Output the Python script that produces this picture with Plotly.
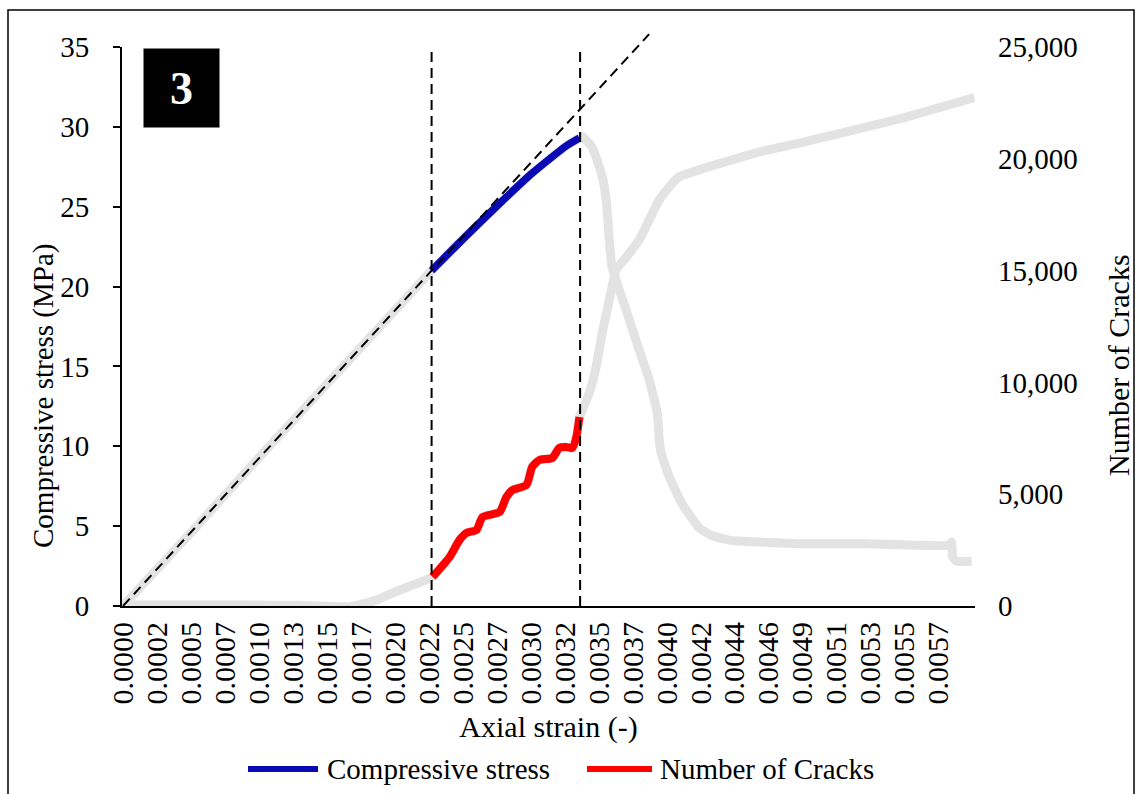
import plotly.graph_objects as go

# Category labels of the strain axis (one unit = one labelled category step)
strain_labels = ["0.0000", "0.0002", "0.0005", "0.0007", "0.0010", "0.0013", "0.0015",
                 "0.0017", "0.0020", "0.0022", "0.0025", "0.0027", "0.0030", "0.0032",
                 "0.0035", "0.0037", "0.0040", "0.0042", "0.0044", "0.0046", "0.0049",
                 "0.0051", "0.0053", "0.0055", "0.0057"]

# Compressive stress (MPa) against axial-strain category position
stress_pos = [0, 2, 4, 6, 8, 9.08, 10.11, 11.08, 12.04, 13.04, 13.43, 13.51, 13.81, 14.10,
              14.22, 14.31, 14.39, 14.81, 15.19, 15.48, 15.72, 15.78, 15.83, 16.07, 16.45,
              16.95, 17.33, 17.92, 19.89, 21.86, 24.29, 24.38, 24.41, 24.53, 24.97]
stress_mpa = [0, 4.6, 9.3, 13.9, 18.5, 21.0, 23.2, 25.2, 27.1, 28.8, 29.3, 29.4, 28.7, 26.9,
              25.4, 22.9, 21.2, 18.5, 16.0, 14.2, 12.1, 10.4, 9.6, 8.1, 6.4,
              4.9, 4.4, 4.1, 3.9, 3.9, 3.8, 4.0, 3.1, 2.8, 2.8]

# Cumulative number of cracks against axial-strain category position
crack_pos = [0, 3.73, 5.2, 6.67, 7.46, 8.14, 9.11, 9.61, 9.90, 10.11, 10.40, 10.58, 11.08,
             11.28, 11.46, 11.87, 12.04, 12.25, 12.63, 12.84, 13.04, 13.22, 13.34, 13.43,
             13.48, 13.72, 13.92, 14.10, 14.31, 14.51, 14.81, 15.19, 15.48, 15.78, 16.07,
             16.36, 18.71, 19.89, 22.83, 25.05]
crack_count = [40, 40, 30, -40, 270, 715, 1300, 2190, 2950, 3270, 3400, 3980, 4200,
               4870, 5190, 5410, 6220, 6530, 6620, 7070, 7110, 7070, 7560, 8450,
               8630, 9530, 10690, 12210, 13680, 15030, 15610, 16370, 17260, 18160, 18740,
               19190, 20300, 20700, 21780, 22740]

# Stage boundaries: crack initiation and peak stress
crack_init_pos = 9.08
peak_pos = 13.45
# Elastic (linear) reference line through the origin
elastic_slope = 21.0 / 9.08
elastic_end_pos = 15.48

STRESS_MAX = 35
CRACK_MAX = 25000
X_RANGE = [-0.03, 25.07]

FONT = "Liberation Serif"
GREY = "#e3e3e3"
BLUE = "#0a0ab4"
RED = "#ff0000"

# Figure geometry (px)
W, H = 1142, 794
ML, MR, MT, MB = 122, 167, 47, 188
PW, PH = W - ML - MR, H - MT - MB


def px_x(px):
    return (px - ML) / PW


def px_y(py):
    return (H - MB - py) / PH


def in_window(xs, ys, lo, hi):
    pts = [(x, y) for x, y in zip(xs, ys) if lo <= x <= hi]
    return [p[0] for p in pts], [p[1] for p in pts]


fig = go.Figure()

# full curves in light grey
fig.add_trace(go.Scatter(x=stress_pos, y=stress_mpa, mode="lines", yaxis="y",
                         line=dict(color=GREY, width=9, shape="spline", smoothing=0.4),
                         showlegend=False, hoverinfo="skip"))
fig.add_trace(go.Scatter(x=crack_pos, y=crack_count, mode="lines", yaxis="y2",
                         line=dict(color=GREY, width=9, shape="spline", smoothing=0.4),
                         showlegend=False, hoverinfo="skip"))

# highlighted stage between crack initiation and peak stress
bx, by = in_window(stress_pos, stress_mpa, crack_init_pos, peak_pos)
rx, ry = in_window(crack_pos, crack_count, crack_init_pos, peak_pos)
fig.add_trace(go.Scatter(x=bx, y=by, mode="lines", yaxis="y", name="Compressive stress",
                         line=dict(color=BLUE, width=7.5, shape="spline", smoothing=0.6),
                         showlegend=False))
fig.add_trace(go.Scatter(x=rx, y=ry, mode="lines", yaxis="y2", name="Number of Cracks",
                         line=dict(color=RED, width=8, shape="spline", smoothing=0.6),
                         showlegend=False))

dash = "10px,6px"
shapes = [
    # elastic reference line
    dict(type="line", xref="x", yref="y domain", x0=0, y0=0,
         x1=elastic_end_pos, y1=elastic_slope * elastic_end_pos / STRESS_MAX,
         line=dict(color="black", width=2, dash=dash)),
    # stage boundaries
    dict(type="line", xref="x", yref="y domain", x0=crack_init_pos, x1=crack_init_pos,
         y0=0, y1=1, line=dict(color="black", width=2, dash=dash)),
    dict(type="line", xref="x", yref="y domain", x0=peak_pos, x1=peak_pos,
         y0=0, y1=1, line=dict(color="black", width=2, dash=dash)),
    # outer frame
    dict(type="rect", xref="paper", yref="paper", x0=px_x(8), x1=px_x(1134),
         y0=px_y(800), y1=px_y(10), line=dict(color="black", width=1.5)),
    # legend samples
    dict(type="line", xref="paper", yref="paper", x0=px_x(248), x1=px_x(318),
         y0=px_y(769), y1=px_y(769), line=dict(color=BLUE, width=6)),
    dict(type="line", xref="paper", yref="paper", x0=px_x(587), x1=px_x(652),
         y0=px_y(769), y1=px_y(769), line=dict(color=RED, width=6)),
]

annotations = [
    dict(xref="paper", yref="paper", x=px_x(181), y=px_y(88), xanchor="center",
         yanchor="middle", text="<b>3</b>", showarrow=False, bgcolor="black",
         width=75, height=78, borderpad=0,
         font=dict(family=FONT, size=46, color="white")),
    # axis titles
    dict(xref="paper", yref="paper", x=px_x(43), y=px_y(396), xanchor="center",
         yanchor="middle", text="Compressive stress (MPa)", textangle=-90,
         showarrow=False, font=dict(family=FONT, size=29, color="black")),
    dict(xref="paper", yref="paper", x=px_x(1118), y=px_y(365), xanchor="center",
         yanchor="middle", text="Number of Cracks", textangle=-90,
         showarrow=False, font=dict(family=FONT, size=30, color="black")),
    # legend labels
    dict(xref="paper", yref="paper", x=px_x(325), y=px_y(769), xanchor="left",
         yanchor="middle", text="Compressive stress", showarrow=False,
         font=dict(family=FONT, size=29, color="black")),
    dict(xref="paper", yref="paper", x=px_x(658), y=px_y(769), xanchor="left",
         yanchor="middle", text="Number of Cracks", showarrow=False,
         font=dict(family=FONT, size=29, color="black")),
]

fig.update_layout(
    width=W, height=H, autosize=False,
    margin=dict(l=ML, r=MR, t=MT, b=MB, pad=0),
    paper_bgcolor="white", plot_bgcolor="white",
    font=dict(family=FONT, color="black"),
    showlegend=False,
    shapes=shapes, annotations=annotations,
    xaxis=dict(range=X_RANGE, tickmode="array", tickvals=list(range(len(strain_labels))),
               ticktext=strain_labels, tickangle=-90, showgrid=False, zeroline=False,
               showline=True, linecolor="black", linewidth=2, ticks="",
               tickfont=dict(family=FONT, size=30), ticklabelstandoff=2,
               title=dict(text="Axial strain (-)", font=dict(family=FONT, size=30), standoff=12),
               automargin=False),
    yaxis=dict(range=[0, STRESS_MAX], dtick=5, showgrid=False, zeroline=False,
               showline=True, linecolor="black", linewidth=2, ticks="outside",
               ticklen=7, tickwidth=2, tickcolor="black",
               tickfont=dict(family=FONT, size=29), ticklabelstandoff=18,
               automargin=False),
    yaxis2=dict(range=[0, CRACK_MAX], dtick=5000, tickformat=",", overlaying="y",
                side="right", showgrid=False, zeroline=False, showline=False, ticks="",
                tickfont=dict(family=FONT, size=29), ticklabelstandoff=22,
                automargin=False),
)

fig.write_html("out.html")
